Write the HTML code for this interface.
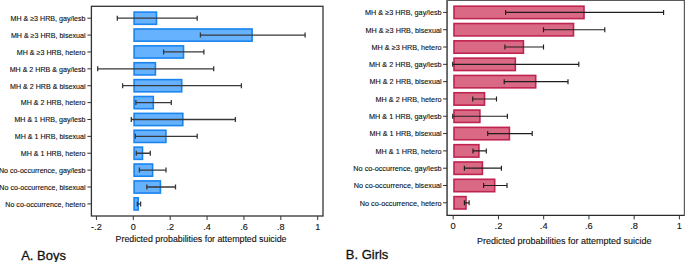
<!DOCTYPE html>
<html><head><meta charset="utf-8"><style>
html,body{margin:0;padding:0;background:#fff;}
body{width:685px;height:262px;overflow:hidden;position:relative;}
svg{position:absolute;left:0;top:0;}
svg text{font-family:"Liberation Sans",sans-serif;fill:#111;stroke:#111;stroke-width:0.12px;}
</style></head><body>
<svg width="685" height="262" viewBox="0 0 685 262">
<rect x="134.10" y="12.10" width="22.40" height="12.20" fill="#66b2ff" stroke="#1a84ee" stroke-width="1.6"/>
<rect x="134.10" y="28.98" width="118.00" height="12.20" fill="#66b2ff" stroke="#1a84ee" stroke-width="1.6"/>
<rect x="134.10" y="45.86" width="49.40" height="12.20" fill="#66b2ff" stroke="#1a84ee" stroke-width="1.6"/>
<rect x="134.10" y="62.74" width="21.30" height="12.20" fill="#66b2ff" stroke="#1a84ee" stroke-width="1.6"/>
<rect x="134.10" y="79.62" width="47.60" height="12.20" fill="#66b2ff" stroke="#1a84ee" stroke-width="1.6"/>
<rect x="134.10" y="96.50" width="19.20" height="12.20" fill="#66b2ff" stroke="#1a84ee" stroke-width="1.6"/>
<rect x="134.10" y="113.38" width="48.70" height="12.20" fill="#66b2ff" stroke="#1a84ee" stroke-width="1.6"/>
<rect x="134.10" y="130.26" width="31.80" height="12.20" fill="#66b2ff" stroke="#1a84ee" stroke-width="1.6"/>
<rect x="134.10" y="147.14" width="8.40" height="12.20" fill="#66b2ff" stroke="#1a84ee" stroke-width="1.6"/>
<rect x="134.10" y="164.02" width="18.50" height="12.20" fill="#66b2ff" stroke="#1a84ee" stroke-width="1.6"/>
<rect x="134.10" y="180.90" width="26.30" height="12.20" fill="#66b2ff" stroke="#1a84ee" stroke-width="1.6"/>
<rect x="134.10" y="197.78" width="4.10" height="12.20" fill="#66b2ff" stroke="#1a84ee" stroke-width="1.6"/>
<path d="M117.30 18.20H197.20M117.30 15.70V20.70M197.20 15.70V20.70" stroke="#383838" stroke-width="1.3" fill="none"/>
<path d="M87.40 18.20H91.40" stroke="#333" stroke-width="1"/>
<text x="85.50" y="21.05" font-size="7.12" text-anchor="end">MH &amp; ≥3 HRB, gay/lesb</text>
<path d="M200.40 35.08H305.10M200.40 32.58V37.58M305.10 32.58V37.58" stroke="#383838" stroke-width="1.3" fill="none"/>
<path d="M87.40 35.08H91.40" stroke="#333" stroke-width="1"/>
<text x="85.50" y="37.93" font-size="7.12" text-anchor="end">MH &amp; ≥3 HRB, bisexual</text>
<path d="M163.60 51.96H203.90M163.60 49.46V54.46M203.90 49.46V54.46" stroke="#383838" stroke-width="1.3" fill="none"/>
<path d="M87.40 51.96H91.40" stroke="#333" stroke-width="1"/>
<text x="85.50" y="54.81" font-size="7.12" text-anchor="end">MH &amp; ≥3 HRB, hetero</text>
<path d="M97.70 68.84H213.70M97.70 66.34V71.34M213.70 66.34V71.34" stroke="#383838" stroke-width="1.3" fill="none"/>
<path d="M87.40 68.84H91.40" stroke="#333" stroke-width="1"/>
<text x="85.50" y="71.69" font-size="7.12" text-anchor="end">MH &amp; 2 HRB &amp; gay/lesb</text>
<path d="M122.60 85.72H241.40M122.60 83.22V88.22M241.40 83.22V88.22" stroke="#383838" stroke-width="1.3" fill="none"/>
<path d="M87.40 85.72H91.40" stroke="#333" stroke-width="1"/>
<text x="85.50" y="88.57" font-size="7.12" text-anchor="end">MH &amp; 2 HRB &amp; bisexual</text>
<path d="M135.90 102.60H171.30M135.90 100.10V105.10M171.30 100.10V105.10" stroke="#383838" stroke-width="1.3" fill="none"/>
<path d="M87.40 102.60H91.40" stroke="#333" stroke-width="1"/>
<text x="85.50" y="105.45" font-size="7.12" text-anchor="end">MH &amp; 2 HRB, hetero</text>
<path d="M131.30 119.48H235.40M131.30 116.98V121.98M235.40 116.98V121.98" stroke="#383838" stroke-width="1.3" fill="none"/>
<path d="M87.40 119.48H91.40" stroke="#333" stroke-width="1"/>
<text x="85.50" y="122.33" font-size="7.12" text-anchor="end">MH &amp; 1 HRB, gay/lesb</text>
<path d="M135.40 136.36H197.20M135.40 133.86V138.86M197.20 133.86V138.86" stroke="#383838" stroke-width="1.3" fill="none"/>
<path d="M87.40 136.36H91.40" stroke="#333" stroke-width="1"/>
<text x="85.50" y="139.21" font-size="7.12" text-anchor="end">MH &amp; 1 HRB, bisexual</text>
<path d="M136.30 153.24H150.30M136.30 150.74V155.74M150.30 150.74V155.74" stroke="#383838" stroke-width="1.3" fill="none"/>
<path d="M87.40 153.24H91.40" stroke="#333" stroke-width="1"/>
<text x="85.50" y="156.09" font-size="7.12" text-anchor="end">MH &amp; 1 HRB, hetero</text>
<path d="M139.40 170.12H166.00M139.40 167.62V172.62M166.00 167.62V172.62" stroke="#383838" stroke-width="1.3" fill="none"/>
<path d="M87.40 170.12H91.40" stroke="#333" stroke-width="1"/>
<text x="85.50" y="172.97" font-size="7.12" text-anchor="end">No co-occurrence, gay/lesb</text>
<path d="M146.80 187.00H175.50M146.80 184.50V189.50M175.50 184.50V189.50" stroke="#383838" stroke-width="1.3" fill="none"/>
<path d="M87.40 187.00H91.40" stroke="#333" stroke-width="1"/>
<text x="85.50" y="189.85" font-size="7.12" text-anchor="end">No co-occurrence, bisexual</text>
<path d="M137.30 203.88H140.60M137.30 201.38V206.38M140.60 201.38V206.38" stroke="#383838" stroke-width="1.3" fill="none"/>
<path d="M87.40 203.88H91.40" stroke="#333" stroke-width="1"/>
<text x="85.50" y="206.73" font-size="7.12" text-anchor="end">No co-occurrence, hetero</text>
<rect x="91.40" y="6.30" width="231.60" height="209.70" fill="none" stroke="#333" stroke-width="1.3"/>
<path d="M96.42 216.00V220.00" stroke="#333" stroke-width="1"/>
<text x="96.42" y="229.50" font-size="9.1" text-anchor="middle">-.2</text>
<path d="M133.30 216.00V220.00" stroke="#333" stroke-width="1"/>
<text x="133.30" y="229.50" font-size="9.1" text-anchor="middle">0</text>
<path d="M170.18 216.00V220.00" stroke="#333" stroke-width="1"/>
<text x="170.18" y="229.50" font-size="9.1" text-anchor="middle">.2</text>
<path d="M207.06 216.00V220.00" stroke="#333" stroke-width="1"/>
<text x="207.06" y="229.50" font-size="9.1" text-anchor="middle">.4</text>
<path d="M243.94 216.00V220.00" stroke="#333" stroke-width="1"/>
<text x="243.94" y="229.50" font-size="9.1" text-anchor="middle">.6</text>
<path d="M280.82 216.00V220.00" stroke="#333" stroke-width="1"/>
<text x="280.82" y="229.50" font-size="9.1" text-anchor="middle">.8</text>
<path d="M317.70 216.00V220.00" stroke="#333" stroke-width="1"/>
<text x="317.70" y="229.50" font-size="9.1" text-anchor="middle">1</text>
<rect x="454.00" y="6.20" width="130.00" height="12.40" fill="#da6985" stroke="#bf2450" stroke-width="1.6"/>
<rect x="454.00" y="23.51" width="119.50" height="12.40" fill="#da6985" stroke="#bf2450" stroke-width="1.6"/>
<rect x="454.00" y="40.82" width="69.40" height="12.40" fill="#da6985" stroke="#bf2450" stroke-width="1.6"/>
<rect x="454.00" y="58.13" width="61.30" height="12.40" fill="#da6985" stroke="#bf2450" stroke-width="1.6"/>
<rect x="454.00" y="75.44" width="81.70" height="12.40" fill="#da6985" stroke="#bf2450" stroke-width="1.6"/>
<rect x="454.00" y="92.75" width="30.50" height="12.40" fill="#da6985" stroke="#bf2450" stroke-width="1.6"/>
<rect x="454.00" y="110.06" width="25.90" height="12.40" fill="#da6985" stroke="#bf2450" stroke-width="1.6"/>
<rect x="454.00" y="127.37" width="55.40" height="12.40" fill="#da6985" stroke="#bf2450" stroke-width="1.6"/>
<rect x="454.00" y="144.68" width="24.90" height="12.40" fill="#da6985" stroke="#bf2450" stroke-width="1.6"/>
<rect x="454.00" y="161.99" width="28.40" height="12.40" fill="#da6985" stroke="#bf2450" stroke-width="1.6"/>
<rect x="454.00" y="179.30" width="40.70" height="12.40" fill="#da6985" stroke="#bf2450" stroke-width="1.6"/>
<rect x="454.00" y="196.61" width="12.00" height="12.40" fill="#da6985" stroke="#bf2450" stroke-width="1.6"/>
<path d="M505.60 12.40H663.60M505.60 9.90V14.90M663.60 9.90V14.90" stroke="#1e1e1e" stroke-width="1.15" fill="none"/>
<path d="M443.05 12.40H447.05" stroke="#333" stroke-width="1"/>
<text x="441.60" y="15.25" font-size="7.26" text-anchor="end">MH &amp; ≥3 HRB, gay/lesb</text>
<path d="M543.50 29.71H604.80M543.50 27.21V32.21M604.80 27.21V32.21" stroke="#1e1e1e" stroke-width="1.15" fill="none"/>
<path d="M443.05 29.71H447.05" stroke="#333" stroke-width="1"/>
<text x="441.60" y="32.56" font-size="7.26" text-anchor="end">MH &amp; ≥3 HRB, bisexual</text>
<path d="M504.90 47.02H543.50M504.90 44.52V49.52M543.50 44.52V49.52" stroke="#1e1e1e" stroke-width="1.15" fill="none"/>
<path d="M443.05 47.02H447.05" stroke="#333" stroke-width="1"/>
<text x="441.60" y="49.87" font-size="7.26" text-anchor="end">MH &amp; ≥3 HRB, hetero</text>
<path d="M452.70 64.33H578.80M452.70 61.83V66.83M578.80 61.83V66.83" stroke="#1e1e1e" stroke-width="1.15" fill="none"/>
<path d="M443.05 64.33H447.05" stroke="#333" stroke-width="1"/>
<text x="441.60" y="67.18" font-size="7.26" text-anchor="end">MH &amp; 2 HRB, gay/lesb</text>
<path d="M504.20 81.64H568.00M504.20 79.14V84.14M568.00 79.14V84.14" stroke="#1e1e1e" stroke-width="1.15" fill="none"/>
<path d="M443.05 81.64H447.05" stroke="#333" stroke-width="1"/>
<text x="441.60" y="84.49" font-size="7.26" text-anchor="end">MH &amp; 2 HRB, bisexual</text>
<path d="M472.70 98.95H496.50M472.70 96.45V101.45M496.50 96.45V101.45" stroke="#1e1e1e" stroke-width="1.15" fill="none"/>
<path d="M443.05 98.95H447.05" stroke="#333" stroke-width="1"/>
<text x="441.60" y="101.80" font-size="7.26" text-anchor="end">MH &amp; 2 HRB, hetero</text>
<path d="M452.70 116.26H507.40M452.70 113.76V118.76M507.40 113.76V118.76" stroke="#1e1e1e" stroke-width="1.15" fill="none"/>
<path d="M443.05 116.26H447.05" stroke="#333" stroke-width="1"/>
<text x="441.60" y="119.11" font-size="7.26" text-anchor="end">MH &amp; 1 HRB, gay/lesb</text>
<path d="M487.70 133.57H532.20M487.70 131.07V136.07M532.20 131.07V136.07" stroke="#1e1e1e" stroke-width="1.15" fill="none"/>
<path d="M443.05 133.57H447.05" stroke="#333" stroke-width="1"/>
<text x="441.60" y="136.42" font-size="7.26" text-anchor="end">MH &amp; 1 HRB, bisexual</text>
<path d="M473.00 150.88H486.30M473.00 148.38V153.38M486.30 148.38V153.38" stroke="#1e1e1e" stroke-width="1.15" fill="none"/>
<path d="M443.05 150.88H447.05" stroke="#333" stroke-width="1"/>
<text x="441.60" y="153.73" font-size="7.26" text-anchor="end">MH &amp; 1 HRB, hetero</text>
<path d="M464.40 168.19H501.40M464.40 165.69V170.69M501.40 165.69V170.69" stroke="#1e1e1e" stroke-width="1.15" fill="none"/>
<path d="M443.05 168.19H447.05" stroke="#333" stroke-width="1"/>
<text x="441.60" y="171.04" font-size="7.26" text-anchor="end">No co-occurrence, gay/lesb</text>
<path d="M483.60 185.50H507.00M483.60 183.00V188.00M507.00 183.00V188.00" stroke="#1e1e1e" stroke-width="1.15" fill="none"/>
<path d="M443.05 185.50H447.05" stroke="#333" stroke-width="1"/>
<text x="441.60" y="188.35" font-size="7.26" text-anchor="end">No co-occurrence, bisexual</text>
<path d="M464.40 202.81H469.10M464.40 200.31V205.31M469.10 200.31V205.31" stroke="#1e1e1e" stroke-width="1.15" fill="none"/>
<path d="M443.05 202.81H447.05" stroke="#333" stroke-width="1"/>
<text x="441.60" y="205.66" font-size="7.26" text-anchor="end">No co-occurrence, hetero</text>
<path d="M447.05 0.50V215.40H684.40" fill="none" stroke="#2a2a2a" stroke-width="1.35"/>
<path d="M446.40 0.50H684.40V216.05" fill="none" stroke="#5a5a5a" stroke-width="1.2"/>
<path d="M453.20 215.40V219.40" stroke="#333" stroke-width="1"/>
<text x="453.20" y="228.90" font-size="9.3" text-anchor="middle">0</text>
<path d="M498.44 215.40V219.40" stroke="#333" stroke-width="1"/>
<text x="498.44" y="228.90" font-size="9.3" text-anchor="middle">.2</text>
<path d="M543.68 215.40V219.40" stroke="#333" stroke-width="1"/>
<text x="543.68" y="228.90" font-size="9.3" text-anchor="middle">.4</text>
<path d="M588.92 215.40V219.40" stroke="#333" stroke-width="1"/>
<text x="588.92" y="228.90" font-size="9.3" text-anchor="middle">.6</text>
<path d="M634.16 215.40V219.40" stroke="#333" stroke-width="1"/>
<text x="634.16" y="228.90" font-size="9.3" text-anchor="middle">.8</text>
<path d="M679.40 215.40V219.40" stroke="#333" stroke-width="1"/>
<text x="679.40" y="228.90" font-size="9.3" text-anchor="middle">1</text>
<text x="201.05" y="241.6" font-size="8.82" text-anchor="middle">Predicted probabilities for attempted suicide</text>
<text x="564.25" y="244.1" font-size="9.0" text-anchor="middle">Predicted probabilities for attempted suicide</text>
<text transform="translate(21.2 259.5) scale(0.955 1)" font-size="13.6" style="stroke-width:0.3px">A. Boys</text>
<text transform="translate(345.8 259.3) scale(0.955 1)" font-size="13.6" style="stroke-width:0.3px">B. Girls</text>
</svg>
</body></html>
